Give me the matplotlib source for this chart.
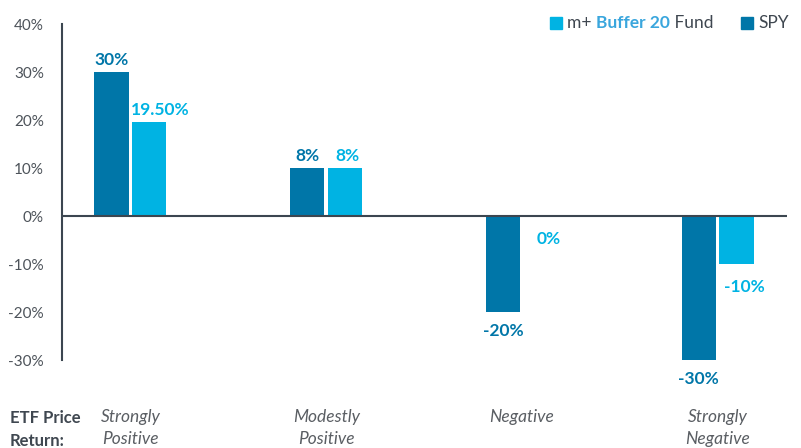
import matplotlib.pyplot as plt
import numpy as np

# scenario categories
categories = ["Strongly\nPositive", "Modestly\nPositive", "Negative", "Strongly\nNegative"]

# bar heights as drawn in the chart (%)
spy_values = [30, 10, -20, -30]
fund_values = [19.5, 10, 0, -10]

# printed value labels
spy_labels = ["30%", "8%", "-20%", "-30%"]
fund_labels = ["19.50%", "8%", "0%", "-10%"]

yticks = [40, 30, 20, 10, 0, -10, -20, -30]

spy_color = "#0076A8"
fund_color = "#00B3E3"
text_dark = "#3F4750"
tick_gray = "#4D535A"

plt.rcParams["font.family"] = ["Lato", "DejaVu Sans"]

fig = plt.figure(figsize=(8.01, 4.48), dpi=100)
ax = fig.add_axes([62 / 801, 1 - 360 / 448, (787 - 62) / 801, (360 - 24) / 448])

x = np.arange(len(categories))
w = 0.174
off = 0.097

ax.bar(x - off, spy_values, width=w, color=spy_color, zorder=2)
ax.bar(x + off, fund_values, width=w, color=fund_color, zorder=2)

ax.set_xlim(-0.35, 3.355)
ax.set_ylim(-30, 40)

lab_kw = dict(textcoords="offset points", fontsize=12.5, fontweight="bold")

# value labels
for xi, v, lab in zip(x - off, spy_values, spy_labels):
    if v >= 0:
        ax.annotate(lab, (xi, v), xytext=(0, 3), ha="center", va="bottom",
                    color=spy_color, **lab_kw)
    else:
        ax.annotate(lab, (xi, v), xytext=(0, -8), ha="center", va="top",
                    color=spy_color, **lab_kw)
for i, (xi, v, lab) in enumerate(zip(x + off, fund_values, fund_labels)):
    if i == 0:
        ax.annotate(lab, (xi - w / 2, v), xytext=(-1, 3), ha="left", va="bottom",
                    color=fund_color, **lab_kw)
    elif v > 0:
        ax.annotate(lab, (xi, v), xytext=(2, 3), ha="center", va="bottom",
                    color=fund_color, **lab_kw)
    else:
        ax.annotate(lab, (xi, v), xytext=(6, -11), ha="center", va="top",
                    color=fund_color, **lab_kw)

ax.axhline(0, color="#3C4650", lw=1.5, zorder=3)

for s in ["top", "right", "bottom"]:
    ax.spines[s].set_visible(False)
ax.spines["left"].set_color("#3C4650")
ax.spines["left"].set_linewidth(1.5)

ax.set_yticks(yticks)
ax.set_yticklabels([f"{t}%" for t in yticks])
ax.tick_params(axis="y", length=0, pad=13, labelsize=11, labelcolor=tick_gray)
ax.set_xticks([])

# category labels under the chart
for xi, c in zip(x, categories):
    ax.text(xi, -40.2, c, ha="center", va="top", fontsize=12.5, style="italic",
            color="#5A5E63", linespacing=1.5)
fig.text(10 / 801, 1 - 410 / 448, "ETF Price\nReturn:", ha="left", va="top",
         fontsize=12, fontweight="bold", color=text_dark, linespacing=1.5)

# legend
fig.patches.append(plt.Rectangle((550 / 801, 1 - 29 / 448), 12 / 801, 12 / 448,
                                 transform=fig.transFigure, color=fund_color, figure=fig))
t1 = fig.text(567 / 801, 1 - 23 / 448, "m+ ", ha="left", va="center", fontsize=12.5, color=text_dark)
fig.canvas.draw()
r = fig.canvas.get_renderer()
bb = t1.get_window_extent(renderer=r)
t2 = fig.text(bb.x1 / 801, 1 - 23 / 448, "Buffer 20", ha="left", va="center",
              fontsize=12.5, color="#3AA6DD", fontweight="bold")
bb = t2.get_window_extent(renderer=r)
fig.text(bb.x1 / 801, 1 - 23 / 448, " Fund", ha="left", va="center", fontsize=12.5, color=text_dark)
fig.patches.append(plt.Rectangle((741 / 801, 1 - 29 / 448), 12 / 801, 12 / 448,
                                 transform=fig.transFigure, color=spy_color, figure=fig))
fig.text(758 / 801, 1 - 23 / 448, "SPY", ha="left", va="center", fontsize=12.5, color=text_dark)

fig.savefig("out.png", dpi=100)
